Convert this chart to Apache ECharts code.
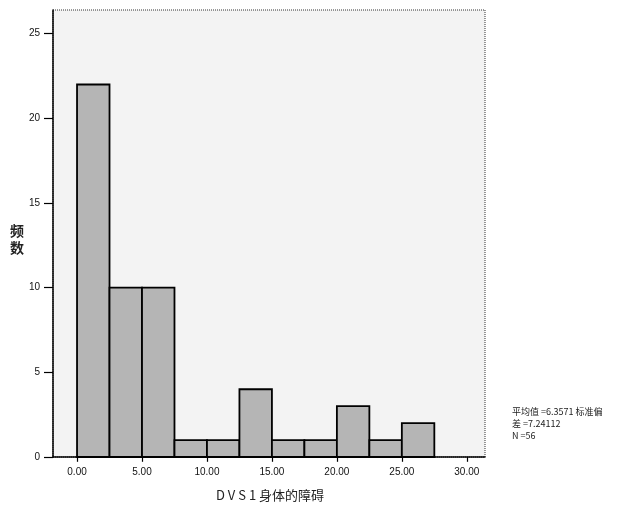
<!DOCTYPE html>
<html>
<head>
<meta charset="utf-8">
<script src="https://cdn.jsdelivr.net/npm/echarts@6/dist/echarts.min.js"></script>
<style>html,body{margin:0;padding:0;background:#fff;}#c{width:630px;height:513px;}</style>
</head>
<body>
<div id="c"></div>
<script>
const binStarts = [0, 2.5, 5, 7.5, 10, 12.5, 15, 17.5, 20, 22.5, 25];
const binWidth = 2.5;
const counts = [22, 10, 10, 1, 1, 4, 1, 1, 3, 1, 2];
const xTicks = [0, 5, 10, 15, 20, 25, 30];
const yTicks = [0, 5, 10, 15, 20, 25];
const xTitle = 'D V S 1 身体的障碍';
const yTitle = '频\n数';
const statsText = '平均值 =6.3571 标准偏\n差 =7.24112\nN =56';

const chart = echarts.init(document.getElementById('c'), null, {renderer: 'canvas'});
const data = binStarts.map((s, i) => [s, s + binWidth, counts[i]]);
const font = '"Liberation Sans", Arial, sans-serif';

chart.setOption({
  animation: false,
  backgroundColor: '#fff',
  grid: {left: 53, top: 10, right: 145, bottom: 56, show: true, backgroundColor: '#f3f3f3', borderColor: '#333', borderWidth: 1, borderType: 'dotted'},
  xAxis: {
    type: 'value', min: -1.85, max: 31.4,
    splitLine: {show: false},
    axisLine: {show: true, onZero: false, lineStyle: {color: '#000', width: 1.5}},
    axisTick: {show: true, customValues: xTicks, length: 7, lineStyle: {color: '#000', type: 'dashed', width: 1.2}},
    axisLabel: {customValues: xTicks, formatter: v => v.toFixed(2), color: '#111', fontSize: 10, fontFamily: font, margin: 10}
  },
  yAxis: {
    type: 'value', min: 0, max: 26.4, interval: 5,
    splitLine: {show: false},
    axisLine: {show: true, onZero: false, lineStyle: {color: '#000', width: 1.5}},
    axisTick: {show: true, customValues: yTicks, length: 9, lineStyle: {color: '#000', width: 1.2}},
    axisLabel: {customValues: yTicks, color: '#111', fontSize: 10, fontFamily: font, margin: 13}
  },
  series: [{
    type: 'custom',
    data: data,
    encode: {x: [0, 1], y: 2},
    renderItem: function (params, api) {
      const p0 = api.coord([api.value(0), api.value(2)]);
      const p1 = api.coord([api.value(1), 0]);
      return {
        type: 'rect',
        shape: {x: p0[0], y: p0[1], width: p1[0] - p0[0], height: p1[1] - p0[1]},
        style: {fill: '#b5b5b5', stroke: '#000', lineWidth: 1.8}
      };
    }
  }],
  graphic: [
    {type: 'text', left: 10, top: 222, style: {text: yTitle, font: 'bold 14px "Noto Sans CJK SC", sans-serif', fill: '#222', lineHeight: 17}},
    {type: 'text', x: 270, y: 495, style: {text: xTitle, font: '13px "Noto Sans CJK SC", sans-serif', fill: '#222', align: 'center', verticalAlign: 'middle'}},
    {type: 'text', left: 512, top: 406, style: {text: statsText, font: '9px "Noto Sans CJK SC", sans-serif', fill: '#222', lineHeight: 12}}
  ]
});
</script>
</body>
</html>
